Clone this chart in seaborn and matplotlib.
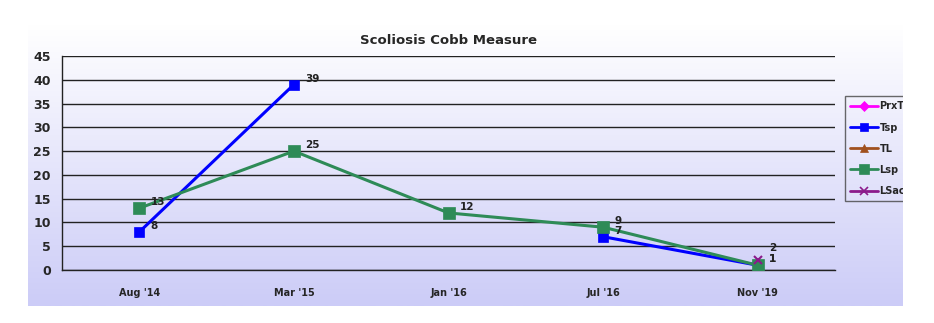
import numpy as np
import pandas as pd
import matplotlib
matplotlib.use("Agg")
import matplotlib.pyplot as plt
import seaborn as sns
from matplotlib.lines import Line2D
from matplotlib.patches import Rectangle

sns.set_theme(style="white")
plt.rcParams['font.family'] = ['DejaVu Sans']

categories = ["Aug '14", "Mar '15", "Jan '16", "Jul '16", "Nov '19"]
prxt = [np.nan, np.nan, np.nan, np.nan, np.nan]
tsp = [8, 39, np.nan, 7, 1]
tl = [np.nan, np.nan, np.nan, np.nan, np.nan]
lsp = [13, 25, 12, 9, 1]
lsac = [np.nan, np.nan, np.nan, np.nan, 2]
yticks = [0, 5, 10, 15, 20, 25, 30, 35, 40, 45]

series = [
    ("PrxT", prxt, "#ff00ff", "D", 6),
    ("Tsp", tsp, "#0000ff", "s", 7),
    ("TL", tl, "#a0501e", "^", 7),
    ("Lsp", lsp, "#2e8b57", "s", 9),
    ("LSac", lsac, "#8b1a8b", "x", 6),
]

fig = plt.figure(figsize=(9.34, 3.23), dpi=100)
fig.patch.set_facecolor("white")

# gradient background
bg = fig.add_axes([28/934, 1-306/323, (903-28)/934, (306-25)/323], zorder=0)
grad = np.linspace(0, 1, 256).reshape(-1, 1)
top = np.array([1.0, 1.0, 1.0])
bot = np.array([0.80, 0.80, 0.97])
img = top + (bot - top) * grad[:, :, None] * np.ones((1, 1, 3))
bg.imshow(img, aspect="auto", extent=[0, 1, 0, 1], origin="upper")
bg.set_axis_off()

ax = fig.add_axes([62/934, 1-270/323, (835-62)/934, (270-56)/323], zorder=1)
ax.patch.set_alpha(0)

x = np.arange(len(categories))


def draw_seg(idx, v, color, mk, ms):
    df = pd.DataFrame({"x": x[idx], "y": v[idx]})
    sns.lineplot(data=df, x="x", y="y", ax=ax, color=color, marker=mk,
                 markersize=ms, linewidth=2.2, markeredgecolor=color,
                 markeredgewidth=1.5 if mk == "x" else 0.5, zorder=3)


for name, vals, color, mk, ms in series:
    v = np.array(vals, dtype=float)
    valid = ~np.isnan(v)
    seg = []
    for i in range(len(v)):
        if valid[i]:
            seg.append(i)
        else:
            if seg:
                draw_seg(seg, v, color, mk, ms)
            seg = []
    if seg:
        draw_seg(seg, v, color, mk, ms)
    for xi, yi in zip(x, v):
        if not np.isnan(yi):
            dy = 7 if name == "LSac" else 2
            ax.annotate(f"{int(yi)}", (xi, yi), xytext=(8, dy), textcoords="offset points",
                        fontsize=7.5, fontweight="bold", color="#222222", zorder=5)

ax.set_xlim(-0.5, len(categories) - 0.5)
ax.set_ylim(0, 45)
ax.set_yticks(yticks)
ax.set_yticklabels([str(t) for t in yticks], fontsize=9, fontweight="bold")
ax.set_xticks(x)
ax.set_xticklabels(categories, fontsize=7, fontweight="bold")
ax.set_xticks(np.arange(-0.5, len(categories)), minor=True)
ax.tick_params(axis="x", which="major", length=0, pad=13)
ax.tick_params(axis="x", which="minor", length=4, width=1, color="#222222", direction="out")
ax.tick_params(axis="y", length=5, width=1, color="#222222", direction="out", pad=3)
ax.yaxis.grid(True, color="#222222", linewidth=1)
ax.set_axisbelow(True)
ax.set_xlabel("")
ax.set_ylabel("")
for s in ["top", "right"]:
    ax.spines[s].set_visible(False)
for s in ["left", "bottom"]:
    ax.spines[s].set_color("#222222")
    ax.spines[s].set_linewidth(1)

ax.set_title("Scoliosis Cobb Measure", fontsize=9.5, fontweight="bold", pad=9)

handles = [Line2D([0], [0], color=c, marker=m, markersize=ms * 0.85, linewidth=2,
                  markeredgecolor=c, markeredgewidth=1.2 if m == "x" else 0.5)
           for _, _, c, m, ms in series]
labels = [n for n, *_ in series]
leg = fig.legend(handles, labels, loc="upper left", bbox_to_anchor=(845/934, 1-96/323),
                 frameon=True, prop={"weight": "bold", "size": 7},
                 handlelength=2.8, handletextpad=0.2, labelspacing=1.15,
                 borderpad=0.55, borderaxespad=0, fancybox=False)
leg.get_frame().set_edgecolor("#444444")
leg.get_frame().set_facecolor("none")
leg.get_frame().set_linewidth(1)
leg.set_zorder(4)

# white area beyond the chart background on the right
fig.patches.append(Rectangle((903/934, 0), 1 - 903/934, 1, transform=fig.transFigure,
                             facecolor="white", edgecolor="none", zorder=10))

fig.savefig("out.png", dpi=100)
